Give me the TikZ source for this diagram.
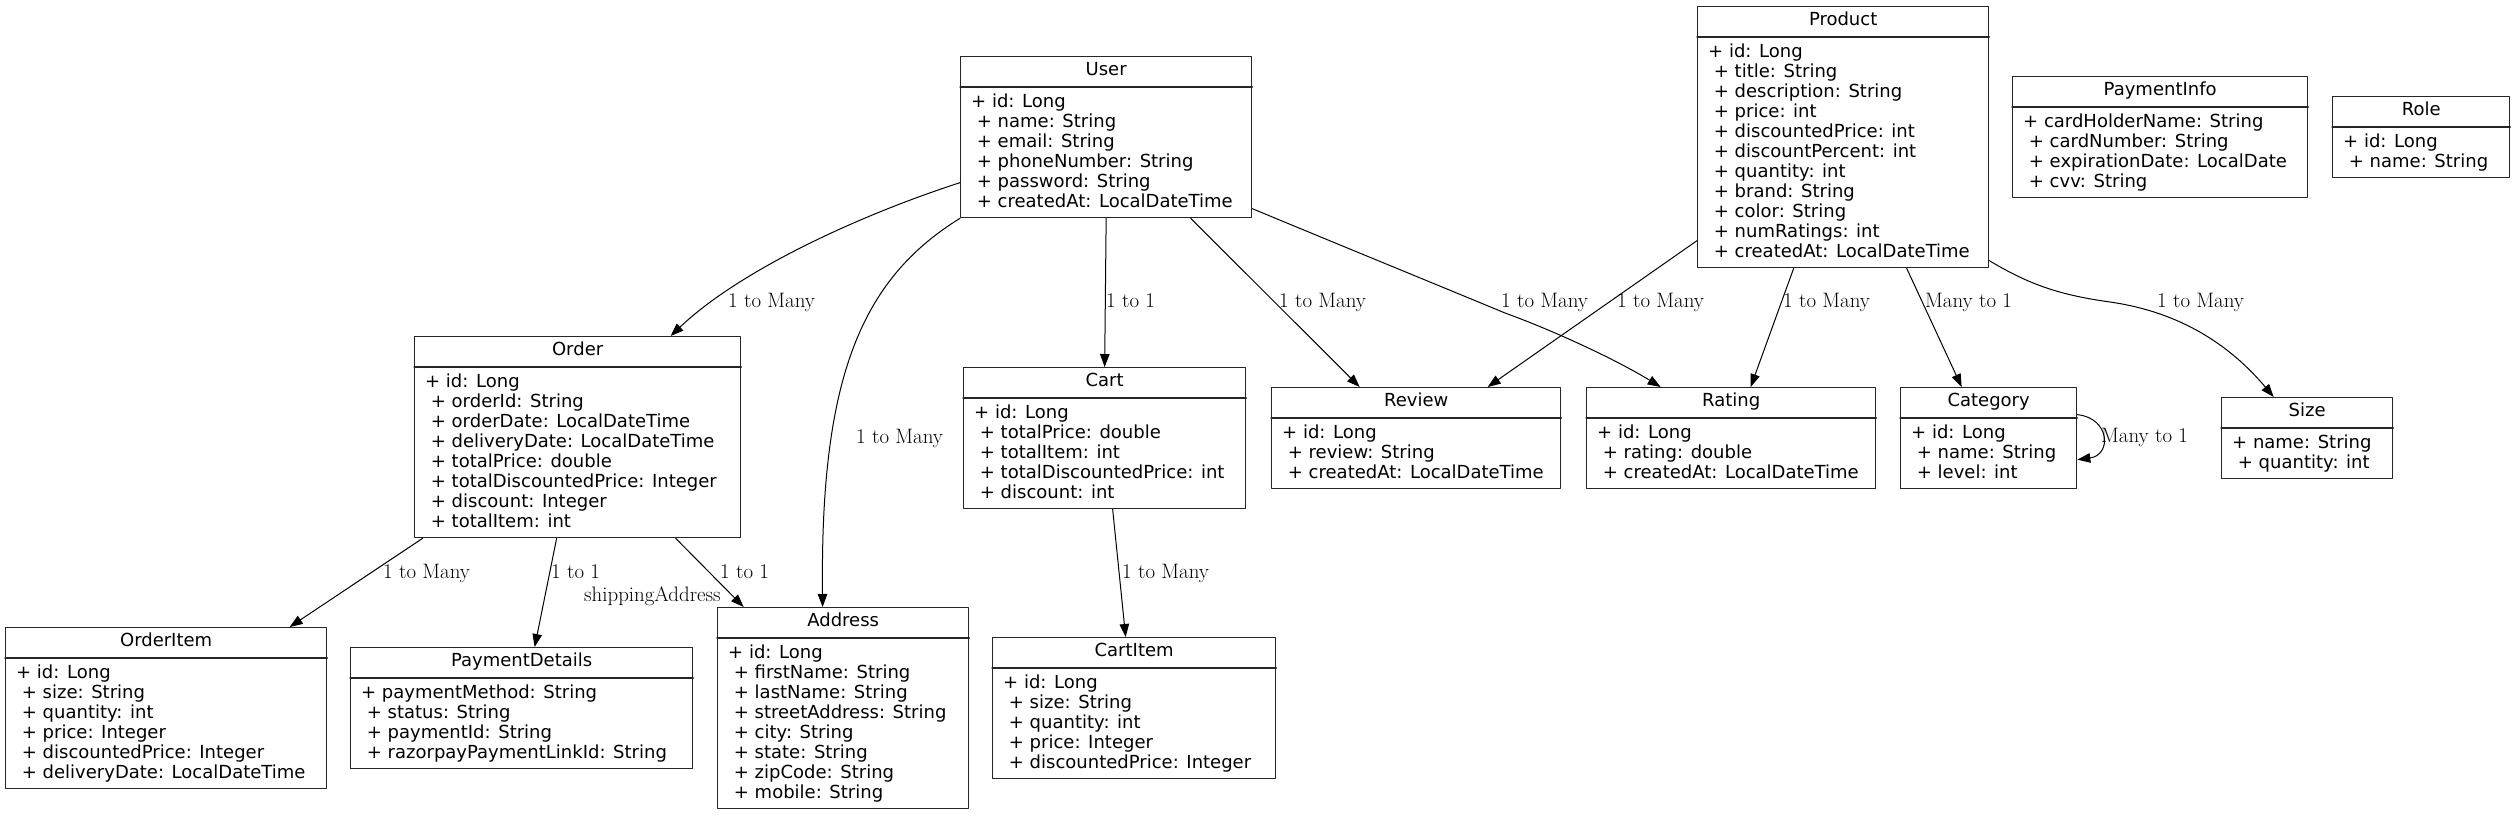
\documentclass[tikz,border=0pt]{standalone}
\usepackage{fontspec}
\newfontfamily\umlfont{DejaVu Sans}
\usetikzlibrary{arrows.meta}

\newcommand\attrfont{\umlfont\fontsize{18}{20}\selectfont}
\newcommand\lblfont{\fontsize{20.9}{24}\selectfont}

\tikzset{
  classbox/.style={draw=black!85,line width=1.3pt,inner sep=0pt},
  classline/.style={draw=black!85,line width=1.3pt},
  classtitle/.style={font=\attrfont,inner sep=0pt,anchor=base},
  classattrs/.style={font=\attrfont,inner sep=0pt,anchor=north west,align=left},
  rel/.style={-{Triangle[length=13pt,width=9.5pt]},line width=1pt},
  lbl/.style={font=\lblfont,inner sep=0pt,anchor=base west}
}

% #1 имя, #2 x, #3 y, #4 ширина, #5 высота, #6 заголовок, #7 поля
\newcommand\umlclass[7]{%
  \node[classbox,minimum width=#4pt,minimum height=#5pt,anchor=north west]
    (#1) at (#2,#3) {};
  \node[classtitle] (#1-title) at ([yshift=-19pt]#1.north) {#6};
  \draw[classline]
    ([yshift=-31pt]#1.north west) -- ([yshift=-31pt]#1.north east);
  \node[classattrs] (#1-attrs) at ([xshift=11pt,yshift=-37pt]#1.north west) {#7};
}

\begin{document}
\begin{tikzpicture}[
  x=1pt,
  y=-1pt,
  line cap=round,
  line join=round
]
  \path[use as bounding box,fill=white] (0,0) rectangle (2513,815);

  % Верхний ряд
  \umlclass{user}{960}{56}{291}{161}{User}
    {\strut+ id: Long\\\ + name: String\\\ + email: String\\\ + phoneNumber: String\\\ + password: String\\\ + createdAt: LocalDateTime}
  \umlclass{product}{1697}{6}{291}{261}{Product}
    {\strut+ id: Long\\\ + title: String\\\ + description: String\\\ + price: int\\\ + discountedPrice: int\\\ + discountPercent: int\\\ + quantity: int\\\ + brand: String\\\ + color: String\\\ + numRatings: int\\\ + createdAt: LocalDateTime}
  \umlclass{paymentinfo}{2012}{76}{295}{121}{PaymentInfo}
    {\strut+ cardHolderName: String\\\ + cardNumber: String\\\ + expirationDate: LocalDate\\\ + cvv: String}
  \umlclass{role}{2332}{96}{177}{81}{Role}
    {\strut+ id: Long\\\ + name: String}

  % Средний ряд
  \umlclass{order}{414}{336}{326}{201}{Order}
    {\strut+ id: Long\\\ + orderId: String\\\ + orderDate: LocalDateTime\\\ + deliveryDate: LocalDateTime\\\ + totalPrice: double\\\ + totalDiscountedPrice: Integer\\\ + discount: Integer\\\ + totalItem: int}
  \umlclass{cart}{963}{367}{282}{141}{Cart}
    {\strut+ id: Long\\\ + totalPrice: double\\\ + totalItem: int\\\ + totalDiscountedPrice: int\\\ + discount: int}
  \umlclass{review}{1271}{387}{289}{101}{Review}
    {\strut+ id: Long\\\ + review: String\\\ + createdAt: LocalDateTime}
  \umlclass{rating}{1586}{387}{289}{101}{Rating}
    {\strut+ id: Long\\\ + rating: double\\\ + createdAt: LocalDateTime}
  \umlclass{category}{1900}{387}{176}{101}{Category}
    {\strut+ id: Long\\\ + name: String\\\ + level: int}
  \umlclass{size}{2221}{397}{171}{81}{Size}
    {\strut+ name: String\\\ + quantity: int}

  % Нижний ряд
  \umlclass{orderitem}{5}{627}{321}{161}{OrderItem}
    {\strut+ id: Long\\\ + size: String\\\ + quantity: int\\\ + price: Integer\\\ + discountedPrice: Integer\\\ + deliveryDate: LocalDateTime}
  \umlclass{paymentdetails}{350}{647}{342}{121}{PaymentDetails}
    {\strut+ paymentMethod: String\\\ + status: String\\\ + paymentId: String\\\ + razorpayPaymentLinkId: String}
  \umlclass{address}{717}{607}{251}{201}{Address}
    {\strut+ id: Long\\\ + firstName: String\\\ + lastName: String\\\ + streetAddress: String\\\ + city: String\\\ + state: String\\\ + zipCode: String\\\ + mobile: String}
  \umlclass{cartitem}{992}{637}{283}{141}{CartItem}
    {\strut+ id: Long\\\ + size: String\\\ + quantity: int\\\ + price: Integer\\\ + discountedPrice: Integer}

  % Связи от User
  \draw[rel]
    ([yshift=-45.5pt]user.west)
    .. controls (860,215) and (740,270) ..
    ([xshift=93pt]order.north);
  \draw[rel]
    (user.south west)
    .. controls (860,280) and (820,380) ..
    ([xshift=-20.5pt]address.north);
  \draw[rel] (user.south) -- (cart.north);
  \draw[rel] ([xshift=84.5pt]user.south) -- ([xshift=-56.5pt]review.north);
  \draw[rel]
    ([yshift=-71.5pt]user.east)
    .. controls (1330,241) and (1440,286) .. (1505,313)
    .. controls (1560,333) and (1620,362) ..
    ([xshift=-70.5pt]rating.north);

  % Связи от Product
  \draw[rel] ([yshift=-103.5pt]product.west) -- ([xshift=71.5pt]review.north);
  \draw[rel] ([xshift=-49.5pt]product.south) -- ([xshift=19.5pt]rating.north);
  \draw[rel] ([xshift=63.5pt]product.south) -- ([xshift=-27pt]category.north);
  \draw[rel]
    ([yshift=-123.5pt]product.east)
    .. controls (2030,285) and (2060,295) .. (2110,302)
    .. controls (2180,312) and (2230,345) ..
    ([xshift=-33.5pt]size.north);
  \draw[rel]
    ([yshift=23.5pt]category.east)
    .. controls (2110,418) and (2112,455) ..
    ([yshift=-21.5pt]category.east);

  % Связи от Order и Cart
  \draw[rel] ([xshift=-155pt]order.south) -- ([xshift=123.5pt]orderitem.north);
  \draw[rel] ([xshift=-21pt]order.south) -- ([xshift=13pt]paymentdetails.north);
  \draw[rel] ([xshift=98pt]order.south) -- ([xshift=-99.5pt]address.north);
  \draw[rel] ([xshift=8pt]cart.south) -- ([xshift=-8.5pt]cartitem.north);

  % Подписи
  \node[lbl] (l-order) at (728,307) {1 to Many};
  \node[lbl] (l-address) at (856,443) {1 to Many};
  \node[lbl] (l-cart) at (1106,307) {1 to 1};
  \node[lbl] (l-review) at (1279,307) {1 to Many};
  \node[lbl] (l-rating) at (1501,307) {1 to Many};
  \node[lbl] (l-p-review) at (1617,307) {1 to Many};
  \node[lbl] (l-p-rating) at (1783,307) {1 to Many};
  \node[lbl] (l-category) at (1925,307) {Many to 1};
  \node[lbl] (l-size) at (2157,307) {1 to Many};
  \node[lbl] (l-parent) at (2101,442) {Many to 1};
  \node[lbl] (l-items) at (383,578) {1 to Many};
  \node[lbl] (l-payment) at (551,578) {1 to 1};
  \node[lbl] (l-shipping) at (720,578) {1 to 1};
  \node[lbl] (l-shipaddr) at (584,601) {shippingAddress};
  \node[lbl] (l-cartitems) at (1122,578) {1 to Many};
\end{tikzpicture}
\end{document}
